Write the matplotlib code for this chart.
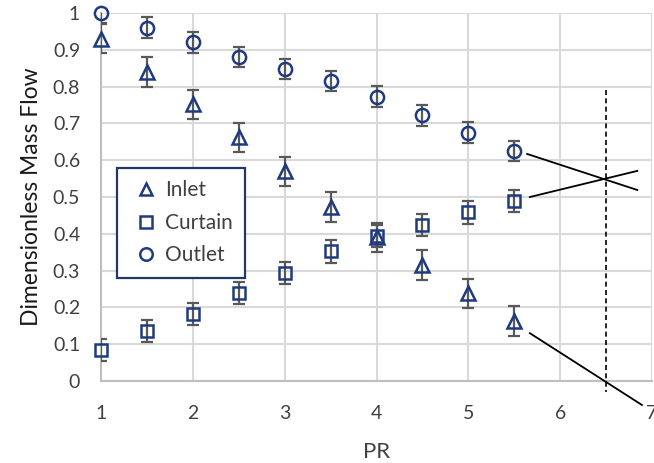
import matplotlib
matplotlib.use("Agg")
import matplotlib.pyplot as plt
from matplotlib.lines import Line2D

plt.rcParams['font.family'] = ['Lato', 'DejaVu Sans']

pr = [1, 1.5, 2, 2.5, 3, 3.5, 4, 4.5, 5, 5.5]
inlet = [0.93, 0.84, 0.752, 0.662, 0.57, 0.473, 0.39, 0.315, 0.238, 0.163]
curtain = [0.085, 0.135, 0.183, 0.238, 0.293, 0.352, 0.395, 0.424, 0.458, 0.488]
outlet = [1.0, 0.96, 0.92, 0.88, 0.848, 0.815, 0.773, 0.722, 0.675, 0.625]
inlet_err = [0.04] * 10
curtain_err = [0.03] * 10
outlet_err = [0.028] * 10

# annotation guide lines (data coords)
guide1_x = [5.64, 6.84]; guide1_y = [0.617, 0.519]
guide2_x = [5.67, 6.84]; guide2_y = [0.500, 0.571]
guide3_x = [5.67, 6.89]; guide3_y = [0.130, -0.065]
dash_x = [6.5, 6.5]; dash_y = [0.79, -0.03]

navy = '#1F3B80'
errc = '#595959'
textc = '#404040'

fig = plt.figure(figsize=(6.54, 4.63), dpi=100)
ax = fig.add_axes([0.1544, 0.177, 0.997 - 0.1544, 0.972 - 0.177])

ax.set_xlim(1, 7)
ax.set_ylim(0, 1)
ax.set_xticks(range(1, 8))
ax.set_yticks([i / 10 for i in range(11)])
ax.set_yticklabels(['0'] + [f'{i/10:.1f}' for i in range(1, 10)] + ['1'])
ax.grid(True, color='#D9D9D9', linewidth=1.5)
ax.set_axisbelow(True)
for s in ['top', 'right']:
    ax.spines[s].set_visible(False)
for s in ['left', 'bottom']:
    ax.spines[s].set_color('#BFBFBF')
    ax.spines[s].set_linewidth(1.5)
ax.tick_params(length=0, labelsize=14, colors=textc)
ax.tick_params(axis='y', pad=15)
ax.tick_params(axis='x', pad=17)

for y, e, m, ms in [(inlet, inlet_err, '^', 9.5), (curtain, curtain_err, 's', 9), (outlet, outlet_err, 'o', 9.5)]:
    ax.errorbar(pr, y, yerr=e, fmt='none', ecolor=errc, elinewidth=1.6, capsize=4.3, capthick=1.6, zorder=3, clip_on=True)
    ax.plot(pr, y, linestyle='none', marker=m, markersize=ms, markerfacecolor='none',
            markeredgecolor=navy, markeredgewidth=1.8, zorder=4, clip_on=False)

for gx, gy in [(guide1_x, guide1_y), (guide2_x, guide2_y), (guide3_x, guide3_y)]:
    ax.plot(gx, gy, color='black', linewidth=1.3, clip_on=False, zorder=5)
ax.plot(dash_x, dash_y, color='black', linewidth=1.2, linestyle=(0, (3, 2)), clip_on=False, zorder=5)

ax.set_xlabel('PR', fontsize=16, color=textc, labelpad=15)
ax.set_ylabel('Dimensionless Mass Flow', fontsize=16.5, color='#1A1A1A', labelpad=8)

handles = [Line2D([], [], linestyle='none', marker='^', markersize=9, markerfacecolor='none', markeredgecolor=navy, markeredgewidth=1.8),
           Line2D([], [], linestyle='none', marker='s', markersize=8.5, markerfacecolor='none', markeredgecolor=navy, markeredgewidth=1.8),
           Line2D([], [], linestyle='none', marker='o', markersize=9, markerfacecolor='none', markeredgecolor=navy, markeredgewidth=1.8)]
leg = ax.legend(handles, ['Inlet', 'Curtain', 'Outlet'], loc='upper left',
                bbox_to_anchor=((117 - 101) / 551, (381 - 168) / 368), fontsize=15,
                frameon=True, fancybox=False, edgecolor='#1F3864', framealpha=1,
                handletextpad=0.1, labelspacing=0.6, borderpad=0.6, handlelength=1.6,
                borderaxespad=0)
leg.get_frame().set_linewidth(1.6)
for t in leg.get_texts():
    t.set_color(textc)

fig.savefig('out.png', dpi=100)
